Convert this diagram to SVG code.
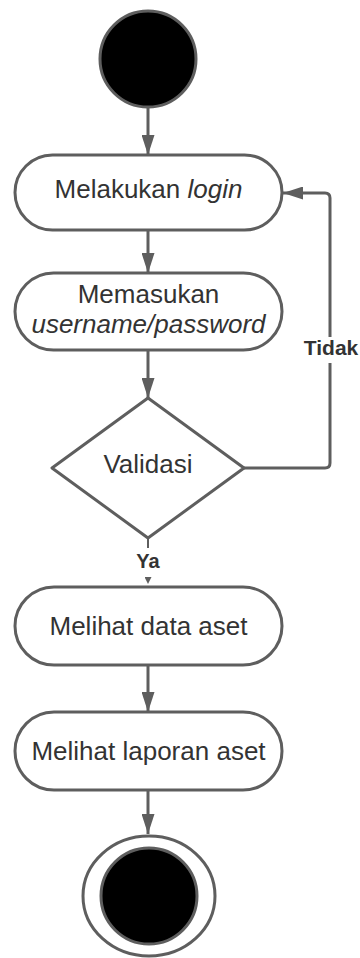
<svg xmlns="http://www.w3.org/2000/svg" width="360" height="958" viewBox="0 0 360 958">
<style>
.shape{fill:#fff;stroke:#5e5e5e;stroke-width:3;stroke-linejoin:round}
.dot{fill:#000;stroke:#5e5e5e;stroke-width:3}
.t{font-family:"Liberation Sans",Arial,sans-serif;font-size:26px;fill:#333;text-anchor:middle}
.lbl{font-family:"Liberation Sans",Arial,sans-serif;font-weight:bold;fill:#333;text-anchor:middle}
.c{fill:none;stroke:#5e5e5e;stroke-width:3}
</style>
<defs>
<marker id="ah" viewBox="0 0 20 13" refX="20" refY="6.5" markerWidth="20" markerHeight="13" markerUnits="userSpaceOnUse" orient="auto">
<path d="M0,0 L20,6.5 L0,13 Z" fill="#5e5e5e"/>
</marker>
<marker id="ahs" viewBox="0 0 7 7" refX="7" refY="3.5" markerWidth="7" markerHeight="7" markerUnits="userSpaceOnUse" orient="auto">
<path d="M0,0 L7,3.5 L0,7 Z" fill="#5e5e5e"/>
</marker>
</defs>
<g id="connectors">
<path class="c" d="M148,108 L148,155" marker-end="url(#ah)"/>
<path class="c" d="M148,230 L148,273" marker-end="url(#ah)"/>
<path class="c" d="M148,350 L148,398" marker-end="url(#ah)"/>
<path class="c" d="M148,538 L148,548" style="stroke-width:2"/>
<path class="c" d="M148,577 L148,584" style="stroke-width:0" marker-end="url(#ahs)"/>
<text class="lbl" x="148" y="568" font-size="20">Ya</text>
<path class="c" d="M244,468 L325,468 Q330,468 330,463 L330,363 M330,337 L330,198 Q330,193 325,193 L283,193" marker-end="url(#ah)"/>
<path class="c" d="M148,665 L148,712" marker-end="url(#ah)"/>
<path class="c" d="M148,790 L148,834" marker-end="url(#ah)"/>
<text class="lbl" x="331" y="355" font-size="21">Tidak</text>
</g>
<g id="start">
<circle class="dot" cx="148" cy="59" r="48"/>
</g>
<g id="login">
<rect class="shape" x="15" y="155" width="267" height="75" rx="37.5"/>
<text class="t" x="148.5" y="198">Melakukan <tspan font-style="italic">login</tspan></text>
</g>
<g id="input">
<rect class="shape" x="15" y="273" width="267" height="77" rx="38.5"/>
<text class="t" x="148.5" y="303">Memasukan</text>
<text class="t" x="148.5" y="333" font-style="italic">username/password</text>
</g>
<g id="validasi">
<path class="shape" d="M148,398 L244,468 L148,538 L52,468 Z"/>
<text class="t" x="148" y="473">Validasi</text>
</g>
<g id="data">
<rect class="shape" x="15" y="587" width="267" height="78" rx="39"/>
<text class="t" x="148.5" y="635">Melihat data aset</text>
</g>
<g id="laporan">
<rect class="shape" x="15" y="712" width="267" height="78" rx="39"/>
<text class="t" x="148.5" y="760">Melihat laporan aset</text>
</g>
<g id="end">
<ellipse class="shape" cx="149" cy="896" rx="66" ry="60"/>
<circle class="dot" cx="149" cy="896" r="48"/>
</g>
</svg>
